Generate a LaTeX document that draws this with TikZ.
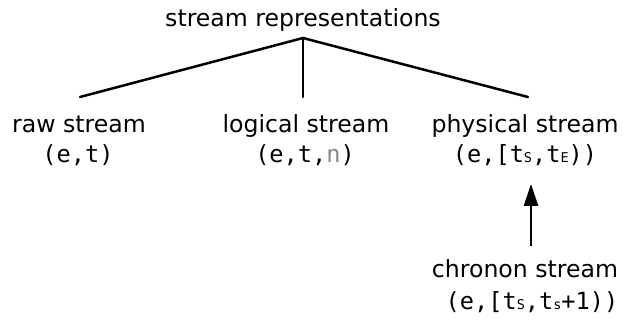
\documentclass[tikz,border=0pt]{standalone}
\usepackage{fontspec}
\setmainfont{DejaVu Sans}
\setmonofont{DejaVu Sans Mono}
\usetikzlibrary{arrows.meta}
\newcommand{\sub}[1]{{\fontsize{13.5}{13.5}\selectfont #1}}
\tikzset{
  lbl/.style={anchor=base, inner sep=0pt, font=\fontsize{23.6}{26}\selectfont},
  tup/.style={anchor=base, inner sep=0pt, font=\fontsize{23.6}{26}\selectfont\ttfamily},
  branch/.style={line width=2.5pt, line cap=round, line join=miter},
  up/.style={line width=2.8pt, -{Triangle[length=22pt,width=14pt]}}
}
\begin{document}
\begin{tikzpicture}[x=1pt,y=-1pt]
  \useasboundingbox (0,0) rectangle (624,320);
  % root
  \node[lbl] (root) at (303,27) {stream representations};
  % three children
  \node[lbl] (raw) at (79,133) {raw stream};
  \node[tup] (rawt) at (78,163) {(e,t)};
  \node[lbl] (logical) at (306,133) {logical stream};
  \node[tup] (logt) at (305,163) {(e,t,\textcolor[HTML]{8A8A8A}{n})};
  \node[lbl] (physical) at (525,133) {physical stream};
  \node[tup] (phyt) at (525,163) {(e,[t\sub{S},t\sub{E}))};
  % chronon stream
  \node[lbl] (chronon) at (525,278) {chronon stream};
  \node[tup] (chrt) at (532,310) {(e,[t\sub{S},t\sub{s}+1))};
  % tree branches
  \coordinate (apex) at (303,38);
  \coordinate (rawtop) at (80,97);
  \coordinate (logtop) at (303,97);
  \coordinate (phytop) at (528,97);
  \draw[branch] (rawtop) -- (apex) -- (phytop);
  \draw[branch] (apex) -- (logtop);
  % refinement arrow
  \coordinate (arrfoot) at (531,246);
  \coordinate (arrtip) at (531,184);
  \draw[up] (arrfoot) -- (arrtip);
\end{tikzpicture}
\end{document}
